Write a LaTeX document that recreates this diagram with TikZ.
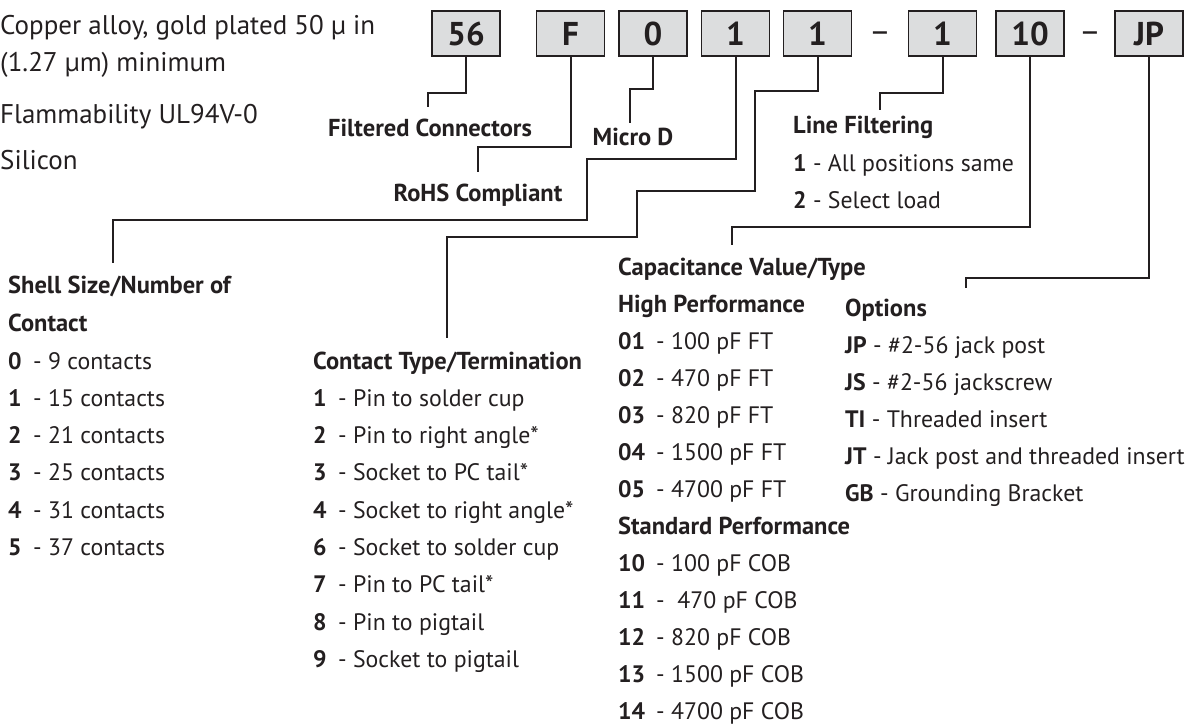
\documentclass[tikz,border=0pt]{standalone}
\usepackage{xcolor}
\usepackage{fontspec}
\setmainfont{PT Sans}
\usepackage{tikz}
\usetikzlibrary{calc}
\usetikzlibrary{positioning}

\definecolor{ink}{HTML}{231F20}
\definecolor{boxgrey}{HTML}{DCDDDE}
\newcommand{\pcode}[3][25pt]{\makebox[#1][l]{\bfseries #2}- #3}

\tikzset{
  codebox/.style={rectangle, draw=ink, fill=boxgrey, line width=1.8pt, minimum width=68pt, minimum height=45pt, inner sep=0pt, text=ink, font=\fontsize{33}{36}\selectfont\bfseries},
  wire/.style={draw=ink, line width=2pt},
  txt/.style={anchor=west, inner sep=0pt, text=ink, text height=17pt, text depth=0pt, font=\fontsize{23.8}{28}\selectfont},
  note/.style={txt, text height=19pt, font=\fontsize{27}{30}\selectfont},
  head/.style={txt, font=\fontsize{24.5}{28}\selectfont\bfseries},
  tag/.style={head, anchor=center},
}

\begin{document}
\begin{tikzpicture}[x=1pt, y=-1pt]
\useasboundingbox (0, 0) rectangle (1204, 724);

% part number boxes
\node [codebox] (b56) at (466, 33.5) {56};
\node [codebox] (bF) at (570.5, 33.5) {F};
\node [codebox] (b0) at (653, 33.5) {0};
\node [codebox] (bShell) at (735.5, 33.5) {1};
\node [codebox] (bType) at (817.5, 33.5) {1};
\node [anchor=base, inner sep=0pt, text=ink, font=\fontsize{33}{36}\selectfont] (dash1) at (880, 42) {--};
\node [codebox] (bLine) at (942.5, 33.5) {1};
\node [codebox] (b10) at (1030, 33.5) {10};
\node [anchor=base, inner sep=0pt, text=ink, font=\fontsize{33}{36}\selectfont] (dash2) at (1090, 42) {--};
\node [codebox] (bJP) at (1149, 33.5) {JP};

% material notes
\node [note] (cu) at (0, 25) {Copper alloy, gold plated 50 µ in};
\node [note] (cu2) at (0, 62) {(1.27 µm) minimum};
\node [note] (ul) at (0, 114) {Flammability UL94V-0};
\node [note] (si) at (0, 160) {Silicon};

% short labels
\node [tag] (filt) at (430, 128) {Filtered Connectors};
\node [tag] (rohs) at (478, 193) {RoHS Compliant};
\node [tag] (micro) at (633, 137) {Micro D};

% line filtering
\node [head] (lf) at (793, 125) {Line Filtering};
\node [txt] (lf1) at (793, 163) {\textbf{1} - All positions same};
\node [txt] (lf2) at (793, 200) {\textbf{2} - Select load};

% shell size
\node [head] (sh) at (8, 285) {Shell Size/Number of};
\node [head] (sh0) at (8, 323) {Contact};
\node [txt] (sh1) at (8, 360.5) {\pcode{0}{9 contacts}};
\node [txt] (sh2) at (8, 397.8) {\pcode{1}{15 contacts}};
\node [txt] (sh3) at (8, 435.1) {\pcode{2}{21 contacts}};
\node [txt] (sh4) at (8, 472.4) {\pcode{3}{25 contacts}};
\node [txt] (sh5) at (8, 509.7) {\pcode{4}{31 contacts}};
\node [txt] (sh6) at (8, 547) {\pcode{5}{37 contacts}};

% contact type
\node [head] (ct) at (313, 360.5) {Contact Type/Termination};
\node [txt] (ct1) at (313, 397.8) {\pcode{1}{Pin to solder cup}};
\node [txt] (ct2) at (313, 435.1) {\pcode{2}{Pin to right angle*}};
\node [txt] (ct3) at (313, 472.4) {\pcode{3}{Socket to PC tail*}};
\node [txt] (ct4) at (313, 509.7) {\pcode{4}{Socket to right angle*}};
\node [txt] (ct6) at (313, 547) {\pcode{6}{Socket to solder cup}};
\node [txt] (ct7) at (313, 584.3) {\pcode{7}{Pin to PC tail*}};
\node [txt] (ct8) at (313, 621.6) {\pcode{8}{Pin to pigtail}};
\node [txt] (ct9) at (313, 658.9) {\pcode{9}{Socket to pigtail}};

% capacitance
\node [head] (cap) at (618, 267) {Capacitance Value/Type};
\node [head] (hp) at (618, 304) {High Performance};
\node [txt] (c01) at (618, 341) {\pcode[38pt]{01}{100 pF FT}};
\node [txt] (c02) at (618, 378) {\pcode[38pt]{02}{470 pF FT}};
\node [txt] (c03) at (618, 415) {\pcode[38pt]{03}{820 pF FT}};
\node [txt] (c04) at (618, 452) {\pcode[38pt]{04}{1500 pF FT}};
\node [txt] (c05) at (618, 489) {\pcode[38pt]{05}{4700 pF FT}};
\node [head] (sp) at (618, 526) {Standard Performance};
\node [txt] (c10) at (618, 563) {\pcode[38pt]{10}{100 pF COB}};
\node [txt] (c11) at (618, 600) {\pcode[38pt]{11}{\ 470 pF COB}};
\node [txt] (c12) at (618, 637) {\pcode[38pt]{12}{820 pF COB}};
\node [txt] (c13) at (618, 674) {\pcode[38pt]{13}{1500 pF COB}};
\node [txt] (c14) at (618, 711) {\pcode[38pt]{14}{4700 pF COB}};

% options
\node [head] (op) at (845, 308) {Options};
\node [txt] (opJP) at (845, 345) {\textbf{JP} - \#2-56 jack post};
\node [txt] (opJS) at (845, 382) {\textbf{JS} - \#2-56 jackscrew};
\node [txt] (opTI) at (845, 419) {\textbf{TI} - Threaded insert};
\node [txt] (opJT) at (845, 456) {\textbf{JT} - Jack post and threaded insert};
\node [txt] (opGB) at (845, 493) {\textbf{GB} - Grounding Bracket};

% leader ends
\coordinate (e56) at (428, 107);
\coordinate (eF) at (478, 172);
\coordinate (e0) at (630, 123);
\coordinate (eShell) at (113, 263);
\coordinate (eType) at (447, 338);
\coordinate (eLine) at (880, 110);
\coordinate (e10) at (732, 245);
\coordinate (eJP) at (966, 288);

\draw [wire] (b56.south) -- ++(0, 36) -| (e56);
\draw [wire] (bF.south) -- ++(0, 90) -| (eF);
\draw [wire] (b0.south) -- ++(0, 32) -| (e0);
\draw [wire] (bShell.south) -- ++(0, 102) -- ++(-148.5, 0) -- ++(0, 61) -| (eShell);
\draw [wire] (bType.south) -- ++(0, 34) -- ++(-62.5, 0) -- ++(0, 100) -- ++(-118, 0) -- ++(0, 46) -| (eType);
\draw [wire] (bLine.south) -- ++(0, 36) -| (eLine);
\draw [wire] (b10.south) -- ++(0, 170) -| (e10);
\draw [wire] (bJP.south) -- ++(0, 221) -| (eJP);
\end{tikzpicture}
\end{document}
